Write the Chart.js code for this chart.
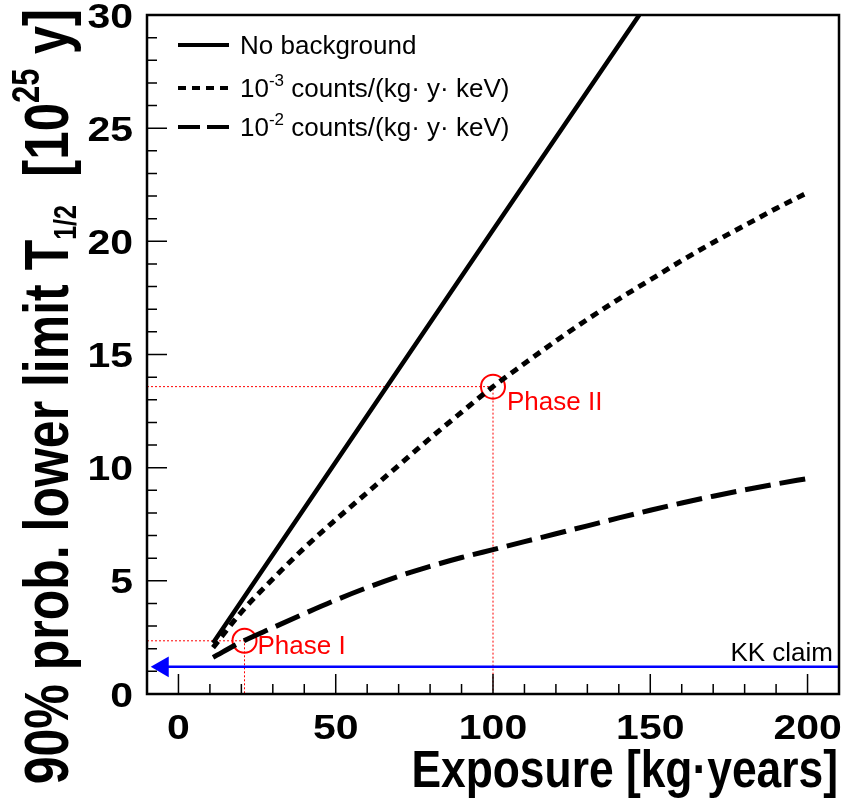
<!DOCTYPE html>
<html>
<head>
<meta charset="utf-8">
<script src="https://cdn.jsdelivr.net/npm/chart.js@4.4.1/dist/chart.umd.min.js"></script>
<style>
  html, body { margin: 0; padding: 0; background: #fff; }
  canvas { display: block; }
</style>
</head>
<body>
<canvas id="limitChart" width="845" height="805"></canvas>
<script>
// exposure in kg·years, limits in 10^25 y
const exposureNoBkg = [11, 50, 100, 146.5];
const limitNoBkg = [2.25, 10.25, 20.5, 30];

const exposureBkg = [11, 20, 30, 40, 50, 60, 70, 80, 90, 100, 110, 120, 130, 140, 150, 160, 170, 180, 190, 200];
const limitBkg3 = [2.05, 3.62, 5.08, 6.45, 7.7, 8.9, 10.1, 11.3, 12.45, 13.58, 14.6, 15.6, 16.55, 17.45, 18.3, 19.15, 19.95, 20.7, 21.45, 22.15];
const limitBkg2 = [1.62, 2.3, 2.93, 3.55, 4.15, 4.7, 5.2, 5.64, 6.03, 6.38, 6.73, 7.08, 7.43, 7.78, 8.12, 8.44, 8.74, 9.02, 9.28, 9.52];

const phaseNames = ['Phase I', 'Phase II'];
const phaseExposure = [21, 100];
const phaseLimit = [2.35, 13.58];

const kkClaim = 1.2;
const kkArrowAt = -5;

const xTicks = [0, 50, 100, 150, 200];
const yTicks = [0, 5, 10, 15, 20, 25, 30];

const FONT = '"Liberation Sans", Arial, Helvetica, sans-serif';

const toPoints = (xs, ys) => xs.map((x, i) => ({ x: x, y: ys[i] }));

// red dotted guide lines from the axes to each phase point
const guideSets = phaseNames.map((name, i) => ({
    label: name + ' guide',
    data: [
        { x: -10, y: phaseLimit[i] },
        { x: phaseExposure[i], y: phaseLimit[i] },
        { x: phaseExposure[i], y: 0 }
    ],
    borderColor: '#ff0000',
    borderWidth: 1,
    borderDash: [2, 2],
    pointRadius: 0,
    showLine: true
}));

// draws text made of several pieces (sub/superscripts)
function drawRich(ctx, parts, x, y, align) {
    let total = 0;
    parts.forEach(p => {
        ctx.font = (p.bold ? 'bold ' : '') + p.size + 'px ' + FONT;
        p.w = ctx.measureText(p.text).width;
        total += p.w;
    });
    let cx = align === 'right' ? x - total : x;
    parts.forEach(p => {
        ctx.font = (p.bold ? 'bold ' : '') + p.size + 'px ' + FONT;
        ctx.textAlign = 'left';
        ctx.textBaseline = 'alphabetic';
        ctx.fillText(p.text, cx, y + (p.dy || 0));
        cx += p.w;
    });
}

// the ROOT label font is a bit wider than Liberation Sans
function wideText(ctx, text, x, y, align, sx) {
    ctx.save();
    ctx.translate(x, y);
    ctx.scale(sx, 1);
    ctx.textAlign = align;
    ctx.fillText(text, 0, 0);
    ctx.restore();
}

const rootFrame = {
    id: 'rootFrame',
    afterDraw(chart) {
        const ctx = chart.ctx;
        const a = chart.chartArea;
        const xs = chart.scales.x;
        const ys = chart.scales.y;
        ctx.save();

        // tick marks pointing into the frame
        ctx.strokeStyle = '#000';
        ctx.lineWidth = 1.5;
        ctx.beginPath();
        for (let v = 0; v <= 200; v += 10) {
            const px = xs.getPixelForValue(v);
            const len = v % 50 === 0 ? 20 : 10;
            ctx.moveTo(px, a.bottom);
            ctx.lineTo(px, a.bottom - len);
        }
        for (let v = 1; v < 30; v++) {
            const py = ys.getPixelForValue(v);
            const len = v % 5 === 0 ? 20 : 10;
            ctx.moveTo(a.left, py);
            ctx.lineTo(a.left + len, py);
        }
        ctx.stroke();

        // frame
        ctx.lineWidth = 2.5;
        ctx.strokeRect(a.left, a.top, a.right - a.left, a.bottom - a.top);

        // tick labels
        ctx.fillStyle = '#000';
        ctx.font = 'bold 35px ' + FONT;
        ctx.textBaseline = 'middle';
        xTicks.forEach(v => wideText(ctx, String(v), xs.getPixelForValue(v), 729, 'center', 1.17));
        yTicks.forEach(v => wideText(ctx, String(v), 133, ys.getPixelForValue(v) + 3, 'right', 1.17));

        // axis titles
        ctx.save();
        ctx.translate(838, 787);
        ctx.scale(0.87, 1);
        drawRich(ctx, [{ text: 'Exposure [kg\u00b7years]', size: 51, bold: true }], 0, 0, 'right');
        ctx.restore();

        ctx.save();
        ctx.translate(68, 9);
        ctx.rotate(-Math.PI / 2);
        ctx.scale(1, 1.25);
        drawRich(ctx, [
            { text: '90% prob. lower limit T', size: 50, bold: true },
            { text: '1/2', size: 25, bold: true, dy: 6 },
            { text: '  [10', size: 51, bold: true },
            { text: '25', size: 31, bold: true, dy: -23 },
            { text: ' y]', size: 51, bold: true }
        ], 0, 0, 'right');
        ctx.restore();

        // legend
        const rows = [
            { y: 45, dash: [], parts: [{ text: 'No background', size: 26 }] },
            { y: 88, dash: [8, 6], parts: [{ text: '10', size: 26 }, { text: '-3', size: 17, dy: -11 }, { text: ' counts/(kg\u00b7 y\u00b7 keV)', size: 26 }] },
            { y: 127, dash: [22, 7], parts: [{ text: '10', size: 26 }, { text: '-2', size: 17, dy: -11 }, { text: ' counts/(kg\u00b7 y\u00b7 keV)', size: 26 }] }
        ];
        rows.forEach(r => {
            ctx.setLineDash(r.dash);
            ctx.lineWidth = 4;
            ctx.beginPath();
            ctx.moveTo(178, r.y);
            ctx.lineTo(229, r.y);
            ctx.stroke();
            ctx.setLineDash([]);
            drawRich(ctx, r.parts, 240, r.y + 9, 'left');
        });

        // phase labels
        ctx.fillStyle = '#ff0000';
        ctx.font = '26px ' + FONT;
        ctx.textAlign = 'left';
        ctx.textBaseline = 'middle';
        const offs = [[13, 6], [14, 16]];
        phaseNames.forEach((name, i) => {
            const px = xs.getPixelForValue(phaseExposure[i]);
            const py = ys.getPixelForValue(phaseLimit[i]);
            ctx.fillText(name, px + offs[i][0], py + offs[i][1]);
        });

        // KK claim label
        ctx.fillStyle = '#000';
        ctx.font = '26px ' + FONT;
        ctx.textAlign = 'right';
        ctx.textBaseline = 'alphabetic';
        ctx.fillText('KK claim', a.right - 6, ys.getPixelForValue(kkClaim) - 6);

        ctx.restore();
    }
};

new Chart(document.getElementById('limitChart'), {
    type: 'scatter',
    data: {
        datasets: [
            {
                label: 'No background',
                data: toPoints(exposureNoBkg, limitNoBkg),
                borderColor: '#000',
                borderWidth: 4.5,
                pointRadius: 0,
                showLine: true
            },
            {
                label: '10^-3 counts/(kg y keV)',
                data: toPoints(exposureBkg, limitBkg3),
                borderColor: '#000',
                borderWidth: 5,
                borderDash: [8, 6],
                pointRadius: 0,
                showLine: true,
                cubicInterpolationMode: 'monotone'
            },
            {
                label: '10^-2 counts/(kg y keV)',
                data: toPoints(exposureBkg, limitBkg2),
                borderColor: '#000',
                borderWidth: 5,
                borderDash: [26, 9],
                pointRadius: 0,
                showLine: true,
                cubicInterpolationMode: 'monotone'
            },
            {
                label: 'Phases',
                data: toPoints(phaseExposure, phaseLimit),
                borderColor: '#ff0000',
                backgroundColor: 'rgba(0,0,0,0)',
                borderWidth: 2,
                pointStyle: 'circle',
                pointRadius: 12,
                showLine: false
            },
            {
                label: 'KK claim',
                data: [{ x: kkArrowAt, y: kkClaim }, { x: 210, y: kkClaim }],
                borderColor: '#0000ff',
                backgroundColor: '#0000ff',
                borderWidth: 2.5,
                pointStyle: 'triangle',
                rotation: -90,
                pointRadius: [12, 0],
                pointBorderWidth: 0,
                showLine: true
            },
            ...guideSets
        ]
    },
    options: {
        responsive: false,
        animation: false,
        layout: { autoPadding: false, padding: { left: 147, top: 15, right: 6, bottom: 111 } },
        plugins: {
            legend: { display: false },
            tooltip: { enabled: false }
        },
        scales: {
            x: { type: 'linear', min: -10, max: 210, display: false },
            y: { type: 'linear', min: 0, max: 30, display: false }
        }
    },
    plugins: [rootFrame]
});
</script>
</body>
</html>
